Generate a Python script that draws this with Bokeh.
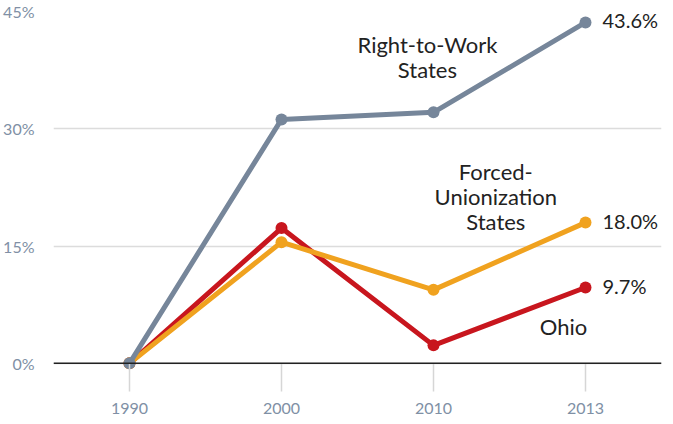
from bokeh.plotting import figure
from bokeh.models import Range1d, FixedTicker, Label, Span
from bokeh.embed import file_html
from bokeh.resources import INLINE

years = ["1990", "2000", "2010", "2013"]
right_to_work = [0.0, 31.2, 32.1, 43.6]
forced_union = [0.0, 15.5, 9.4, 18.0]
ohio = [0.0, 17.3, 2.3, 9.7]
y_ticks = [0, 15, 30, 45]

FONT = "Lato"
GRAY = "#76869a"
ORANGE = "#f0a21f"
RED = "#c8161e"
TICK_COLOR = "#8090a5"

xs = list(range(len(years)))

p = figure(frame_width=608, frame_height=380, output_backend="svg", toolbar_location=None,
           x_range=Range1d(-0.5, 3.5), y_range=Range1d(-3.6, 45.0),
           min_border_left=46, min_border_right=3, min_border_top=11, min_border_bottom=31)
p.outline_line_color = None
p.background_fill_color = "white"

# grid
p.xgrid.grid_line_color = None
p.ygrid.grid_line_color = "#dcdcdc"
p.ygrid.grid_line_width = 1.5
p.ygrid.ticker = FixedTicker(ticks=y_ticks)

# y axis
p.yaxis.ticker = FixedTicker(ticks=y_ticks)
p.yaxis.major_label_overrides = {t: f"{t}%" for t in y_ticks}
p.yaxis.axis_line_color = None
p.yaxis.major_tick_line_color = None
p.yaxis.minor_tick_line_color = None
p.yaxis.major_label_standoff = 13
p.yaxis.major_label_text_font = FONT
p.yaxis.major_label_text_font_size = "16px"
p.yaxis.major_label_text_color = TICK_COLOR

# x axis with inward ticks
p.xaxis.ticker = FixedTicker(ticks=xs)
p.xaxis.major_label_overrides = {i: y for i, y in enumerate(years)}
p.xaxis.axis_line_color = None
p.xaxis.minor_tick_line_color = None
p.xaxis.major_tick_in = 28
p.xaxis.major_tick_out = 0
p.xaxis.major_tick_line_color = "#d6d6d6"
p.xaxis.major_tick_line_width = 1.5
p.xaxis.major_label_standoff = 11
p.xaxis.major_label_text_font = FONT
p.xaxis.major_label_text_font_size = "16px"
p.xaxis.major_label_text_color = TICK_COLOR

# zero line
p.add_layout(Span(location=0, dimension="width", line_color="#222222", line_width=1.5))

for vals, col in [(ohio, RED), (forced_union, ORANGE), (right_to_work, GRAY)]:
    p.line(xs, vals, line_color=col, line_width=5, line_join="round")
    p.scatter(xs, vals, size=12, fill_color=col, line_color=col, line_width=0)

# end value labels
for vals in [right_to_work, forced_union, ohio]:
    p.add_layout(Label(x=xs[-1], y=vals[-1], text=f"{vals[-1]:.1f}%", x_offset=17, y_offset=2,
                       text_font=FONT, text_font_size="20px", text_color="#222222",
                       text_baseline="middle", text_align="left"))

def series_label(x, y, lines):
    for i, t in enumerate(lines):
        p.add_layout(Label(x=x, y=y, y_offset=-25 * i, text=t, text_font=FONT,
                           text_font_size="22px", text_color="#222222",
                           text_baseline="middle", text_align="center"))

series_label(1.96, 40.8, ["Right-to-Work", "States"])
series_label(2.41, 24.5, ["Forced-", "Unionization", "States"])
series_label(2.855, 4.7, ["Ohio"])

open("out.html", "w").write(file_html(p, INLINE))
